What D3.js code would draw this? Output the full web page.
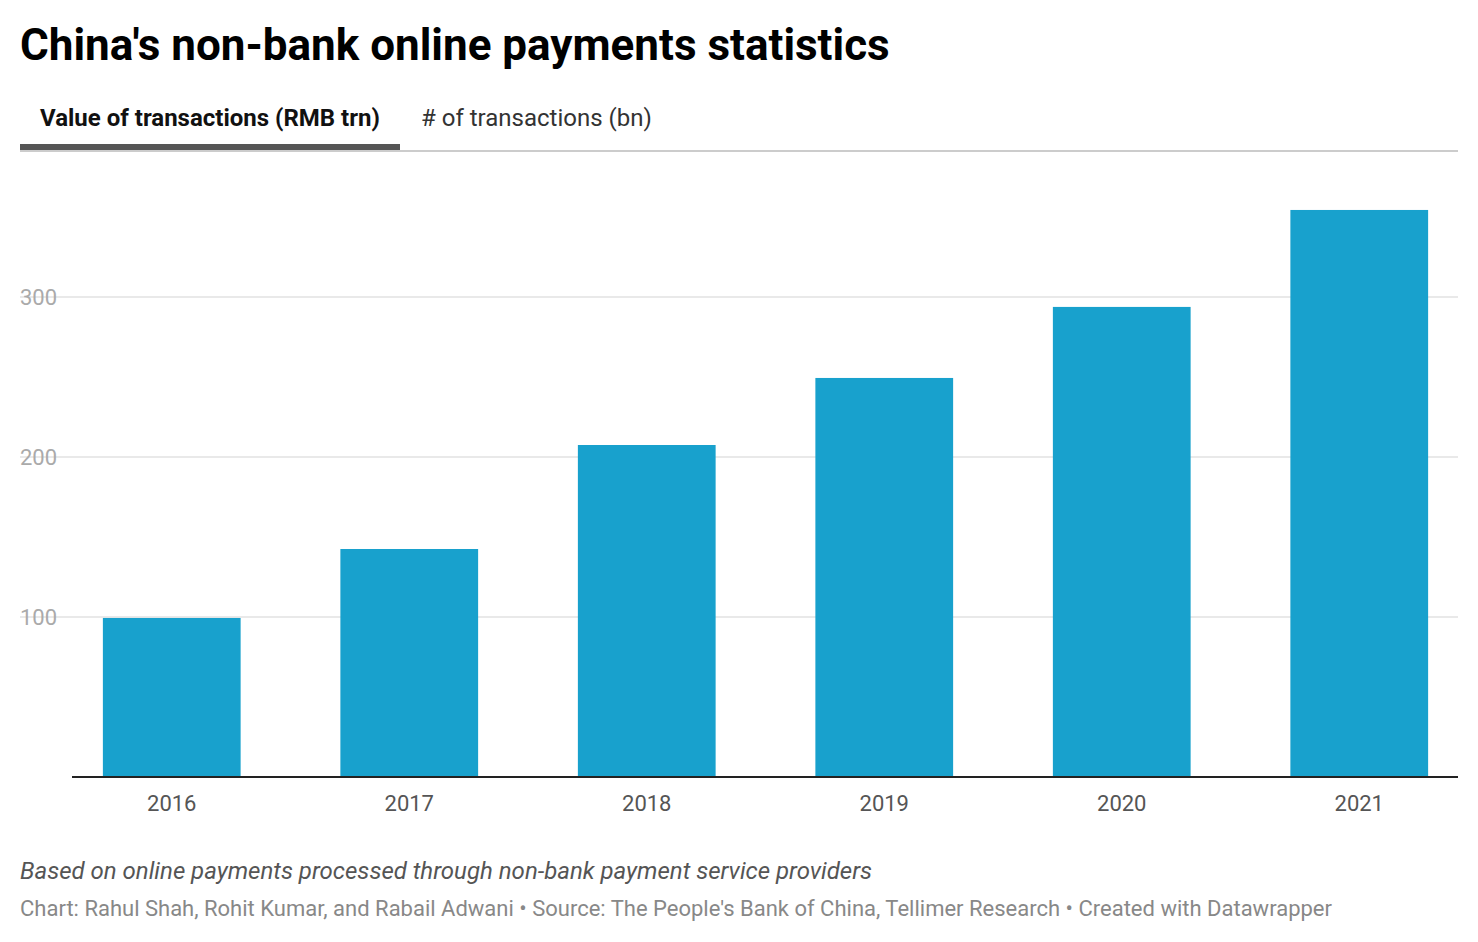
<!DOCTYPE html><html><head><meta charset="utf-8"><script src="https://cdn.jsdelivr.net/npm/d3@7"></script>
<style>body{margin:0;background:#fff;font-family:Roboto,sans-serif}</style></head><body><svg id="c" width="1478" height="942"></svg>
<script>
const years=["2016","2017","2018","2019","2020","2021"];
const values=[99.4,142.5,207.5,249.4,293.8,354.4];
const yTicks=[100,200,300];
const svg=d3.select("#c");
svg.append("text").attr("x",20).attr("y",60).attr("font-size",44).attr("font-weight",700).attr("fill","#000").text("China's non-bank online payments statistics");
svg.append("text").attr("x",40).attr("y",126).attr("font-size",24).attr("font-weight",700).attr("fill","#111").text("Value of transactions (RMB trn)");
svg.append("text").attr("x",421).attr("y",126).attr("font-size",24).attr("fill","#333").text("# of transactions (bn)");
svg.append("line").attr("x1",20).attr("x2",1458).attr("y1",151).attr("y2",151).attr("stroke","#ccc").attr("stroke-width",2);
svg.append("rect").attr("x",20).attr("y",144).attr("width",380).attr("height",6).attr("fill","#555");
const x=d3.scaleBand().domain(years).range([53,1478]).paddingInner(0.42).paddingOuter(0.21);
const y=d3.scaleLinear().domain([0,100]).range([777,617]);
yTicks.forEach(t=>{
 svg.append("line").attr("x1",20).attr("x2",1458).attr("y1",y(t)).attr("y2",y(t)).attr("stroke","#e2e2e2").attr("stroke-width",1.5);
 svg.append("text").attr("x",20).attr("y",y(t)+8).attr("font-size",22).attr("fill","#aaa").text(t);
});
svg.selectAll("rect.b").data(years).enter().append("rect").attr("class","b")
 .attr("x",d=>x(d)).attr("width",x.bandwidth()).attr("y",(d,i)=>y(values[i])).attr("height",(d,i)=>777-y(values[i])).attr("fill","#18a1cd");
svg.append("line").attr("x1",72).attr("x2",1458).attr("y1",777).attr("y2",777).attr("stroke","#222").attr("stroke-width",2);
years.forEach(d=>svg.append("text").attr("x",x(d)+x.bandwidth()/2).attr("y",811).attr("text-anchor","middle").attr("font-size",22).attr("fill","#555").text(d));
svg.append("text").attr("x",20).attr("y",879).attr("font-size",24).attr("font-style","italic").attr("fill","#555").text("Based on online payments processed through non-bank payment service providers");
svg.append("text").attr("x",20).attr("y",916).attr("font-size",22).attr("fill","#888").text("Chart: Rahul Shah, Rohit Kumar, and Rabail Adwani • Source: The People's Bank of China, Tellimer Research • Created with Datawrapper");
</script></body></html>
